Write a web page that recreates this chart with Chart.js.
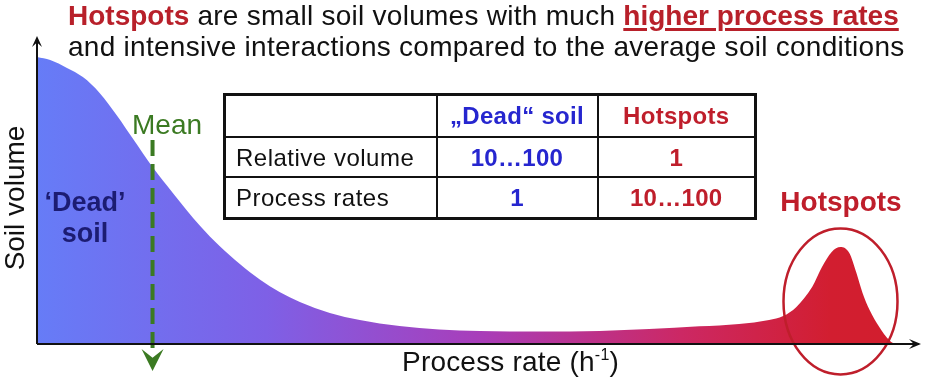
<!DOCTYPE html>
<html>
<head>
<meta charset="utf-8">
<script src="https://cdn.jsdelivr.net/npm/chart.js@4.4.1/dist/chart.umd.min.js"></script>
<style>
  html, body { margin: 0; padding: 0; background: #fff; }
  #wrap { position: relative; width: 925px; height: 386px; overflow: hidden; background: #fff;
          font-family: "Liberation Sans", Arial, sans-serif; color: #111; }
  #c { position: absolute; left: 0; top: 0; }
  .t { position: absolute; white-space: nowrap; line-height: 1; }
  .title { letter-spacing: 0.27px; }
  .red { color: #b8202a; font-weight: bold; letter-spacing: 0; }
  .ul { text-decoration: underline; text-decoration-color: #b8202a; text-decoration-thickness: 3px; text-underline-offset: 3px; }
  #tbl { position: absolute; left: 223px; top: 93px; border-collapse: collapse; table-layout: fixed;
         border: 3px solid #111; font-size: 24px; }
  #tbl td { border: 2px solid #111; padding: 0; vertical-align: top; line-height: 24px; padding-top: 8px; text-align: center; white-space: nowrap; letter-spacing: 0.3px; }
  #tbl td.lab { text-align: left; padding-left: 10px; letter-spacing: 0.5px; }
  .blue { color: #2626cf; font-weight: bold; }
  .redc { color: #bf1e2b; font-weight: bold; }
  sup { font-size: 16px; line-height: 0; vertical-align: 11px; }
</style>
</head>
<body>
<div id="wrap">
  <canvas id="c" width="925" height="386"></canvas>
  <div class="t title" id="title1" style="left:68px; top:2px; font-size:28px;"></div>
  <div class="t title" id="title2" style="left:68px; top:33px; font-size:28px;"></div>
  <div class="t" id="meanLab" style="left:132px; top:111px; font-size:28px; color:#3b7a22;"></div>
  <div class="t" id="dead1" style="left:25px; width:120px; text-align:center; top:189px; font-size:27px; font-weight:bold; color:#1c1c72;"></div>
  <div class="t" id="dead2" style="left:25px; width:120px; text-align:center; top:220px; font-size:27px; font-weight:bold; color:#1c1c72;"></div>
  <div class="t" id="hotLab" style="left:771px; width:140px; text-align:center; top:188px; font-size:28px; font-weight:bold; color:#bf1e2b;"></div>
  <div class="t" id="yTitle" style="left:-85px; width:200px; text-align:center; top:184px; height:28px; line-height:28px; font-size:28px; transform:rotate(-90deg); transform-origin:center;"></div>
  <div class="t" id="xTitle" style="left:402px; top:348px; font-size:28px; letter-spacing:0.2px;"></div>
  <table id="tbl"></table>
</div>
<script>
// ---------- DATA ----------
const processRate = [0, 1.5, 3.4, 5.2, 7.1, 9.1, 10.9, 13.1, 15.4, 18.5, 20.7, 23.0, 25.3, 27.5, 29.8,
  33.2, 36.6, 41.1, 45.6, 50.2, 57.0, 63.8, 69.4, 75.1, 79.6, 83.0, 84.6, 86.1, 87.9, 89.0, 90.1,
  91.1, 92.1, 92.9, 93.6, 94.4, 95.5, 96.6, 97.2];
const soilVolume = [94.4, 93.4, 90.8, 87.8, 82.6, 75.0, 67.4, 58.2, 49.7, 38.8, 32.2, 26.3, 21.1, 17.1, 13.8,
  10.2, 7.9, 5.9, 4.8, 4.3, 4.1, 4.3, 4.9, 5.8, 6.6, 7.9, 9.2, 12.2, 18.8, 25.3, 30.3,
  31.9, 29.9, 23.4, 16.8, 11.2, 5.6, 1.3, 0];
const meanRate = 13.1;
const hotspotPeakRate = 91.1;
const hotspotCircleVolume = 14;

const titleLine1 = ["Hotspots", " are small soil volumes with much ", "higher process rates"];
const titleLine2 = "and intensive interactions compared to the average soil conditions";
const meanLabel = "Mean";
const deadLabel = ["‘Dead’", "soil"];
const hotspotLabel = "Hotspots";
const yAxisTitle = "Soil volume";
const xAxisTitle = ["Process rate (h", "-1", ")"];
const tableHeader = ["", "„Dead“ soil", "Hotspots"];
const tableRowLabels = ["Relative volume", "Process rates"];
const deadSoilValues = ["10…100", "1"];
const hotspotValues = ["1", "10…100"];

// ---------- TEXT ----------
const t1 = document.getElementById('title1');
t1.innerHTML = '<span class="red">' + titleLine1[0] + '</span>' + titleLine1[1] +
  '<span class="red ul">' + titleLine1[2] + '</span>';
document.getElementById('title2').textContent = titleLine2;
document.getElementById('meanLab').textContent = meanLabel;
document.getElementById('dead1').textContent = deadLabel[0];
document.getElementById('dead2').textContent = deadLabel[1];
document.getElementById('hotLab').textContent = hotspotLabel;
document.getElementById('yTitle').textContent = yAxisTitle;
document.getElementById('xTitle').innerHTML = xAxisTitle[0] + '<sup>' + xAxisTitle[1] + '</sup>' + xAxisTitle[2];

const tbl = document.getElementById('tbl');
const colW = [212, 161, 158];
const rowH = [42, 40, 42];
let html = '<colgroup>' + colW.map(w => '<col style="width:' + w + 'px">').join('') + '</colgroup>';
html += '<tr style="height:' + rowH[0] + 'px"><td></td><td class="blue">' + tableHeader[1] +
  '</td><td class="redc">' + tableHeader[2] + '</td></tr>';
tableRowLabels.forEach((lab, i) => {
  html += '<tr style="height:' + rowH[i + 1] + 'px"><td class="lab">' + lab + '</td><td class="blue">' +
    deadSoilValues[i] + '</td><td class="redc">' + hotspotValues[i] + '</td></tr>';
});
tbl.innerHTML = html;

// ---------- CHART ----------
function fillGradient(context) {
  const chart = context.chart;
  const area = chart.chartArea;
  if (!area) return '#6a7cf5';
  const g = chart.ctx.createLinearGradient(area.left, 0, area.right, 0);
  g.addColorStop(0.0, 'rgb(102,124,247)');
  g.addColorStop(0.26, 'rgb(126,96,230)');
  g.addColorStop(0.5, 'rgb(168,62,186)');
  g.addColorStop(0.73, 'rgb(204,40,100)');
  g.addColorStop(0.9, 'rgb(210,30,48)');
  g.addColorStop(1.0, 'rgb(210,30,45)');
  return g;
}

function arrowHead(ctx, x, y, angle, len, half, color) {
  ctx.save();
  ctx.translate(x, y);
  ctx.rotate(angle);
  ctx.fillStyle = color;
  ctx.beginPath();
  ctx.moveTo(0, 0);
  ctx.lineTo(-len, -half);
  ctx.lineTo(-len * 0.6, 0);
  ctx.lineTo(-len, half);
  ctx.closePath();
  ctx.fill();
  ctx.restore();
}

const overlay = {
  id: 'overlay',
  afterDatasetsDraw(chart) {
    const ctx = chart.ctx;
    const xs = chart.scales.x, ys = chart.scales.y;
    const a = chart.chartArea;
    // mean dashed line
    const mx = xs.getPixelForValue(meanRate);
    ctx.save();
    ctx.strokeStyle = '#3b7a22';
    ctx.lineWidth = 4;
    ctx.setLineDash([16, 8]);
    ctx.beginPath();
    ctx.moveTo(mx, 140);
    ctx.lineTo(mx, a.bottom + 8);
    ctx.stroke();
    ctx.restore();
    arrowHead(ctx, mx, a.bottom + 27, Math.PI / 2, 22, 11, '#3b7a22');
    // hotspot ellipse
    const hx = xs.getPixelForValue(hotspotPeakRate);
    const hy = ys.getPixelForValue(hotspotCircleVolume);
    ctx.save();
    ctx.strokeStyle = '#bf1e2b';
    ctx.lineWidth = 2.5;
    ctx.beginPath();
    ctx.ellipse(hx, hy, 57, 73, 0, 0, Math.PI * 2);
    ctx.stroke();
    ctx.restore();
    // axes
    ctx.save();
    ctx.strokeStyle = '#111';
    ctx.lineWidth = 2;
    ctx.beginPath();
    ctx.moveTo(a.left, a.bottom);
    ctx.lineTo(a.left, a.top - 1);
    ctx.moveTo(a.left, a.bottom);
    ctx.lineTo(a.right, a.bottom);
    ctx.stroke();
    ctx.restore();
    arrowHead(ctx, a.left, a.top - 4, -Math.PI / 2, 11, 5, '#111');
    arrowHead(ctx, a.right + 2, a.bottom, 0, 12, 5, '#111');
  }
};

new Chart(document.getElementById('c'), {
  type: 'line',
  data: {
    datasets: [{
      data: processRate.map((x, i) => ({ x: x, y: soilVolume[i] })),
      fill: 'origin',
      backgroundColor: fillGradient,
      borderWidth: 0,
      borderColor: 'rgba(0,0,0,0)',
      pointRadius: 0,
      cubicInterpolationMode: 'monotone'
    }]
  },
  options: {
    responsive: false,
    animation: false,
    devicePixelRatio: 1,
    layout: { padding: { left: 37, top: 40, right: 6, bottom: 42 } },
    scales: {
      x: { type: 'linear', min: 0, max: 100, display: false },
      y: { min: 0, max: 100, display: false }
    },
    plugins: { legend: { display: false }, tooltip: { enabled: false } }
  },
  plugins: [overlay]
});
</script>
</body>
</html>
